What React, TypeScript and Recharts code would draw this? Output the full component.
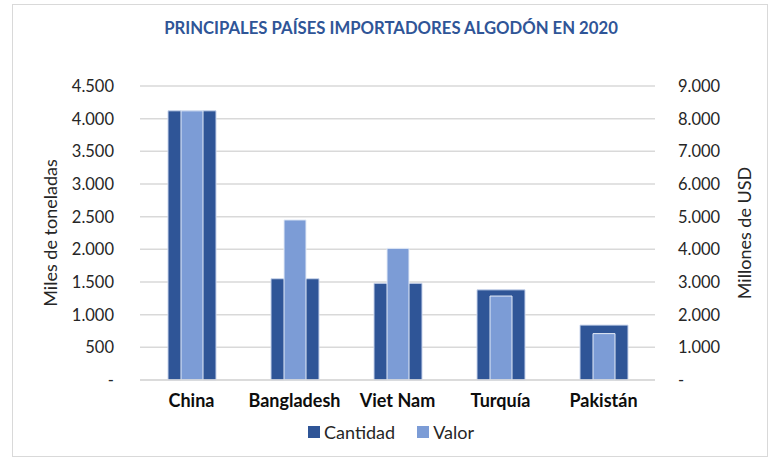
import { Bar, BarChart, CartesianGrid, XAxis, YAxis } from 'recharts';

const countries = ['China', 'Bangladesh', 'Viet Nam', 'Turquía', 'Pakistán'];
// Miles de toneladas
const cantidad = [4120, 1550, 1480, 1380, 840];
// Millones de USD
const valor = [8240, 4900, 4030, 2570, 1420];

const leftTicks = [0, 500, 1000, 1500, 2000, 2500, 3000, 3500, 4000, 4500];
const rightTicks = [0, 1000, 2000, 3000, 4000, 5000, 6000, 7000, 8000, 9000];

const data = countries.map((name, i) => ({ name, cantidad: cantidad[i], valor: valor[i] }));

const DARK = '#2F5597';
const LIGHT = '#7C9CD6';
const FONT = 'Lato, "Open Sans", sans-serif';

function fmt(v: number): string {
  if (v === 0) return '-';
  return v.toString().replace(/\B(?=(\d{3})+(?!\d))/g, '.');
}

function AxisTitle({ x, y, text }: { x: number; y: number; text: string }) {
  return (
    <text
      x={x}
      y={y}
      transform={`rotate(-90 ${x} ${y})`}
      textAnchor="middle"
      dominantBaseline="central"
      fontSize={18}
      fill="#262626"
      fontFamily={FONT}
    >
      {text}
    </text>
  );
}

export default function App() {
  return (
    <div style={{ position: 'absolute', left: 0, top: 0, width: 772, height: 457, background: '#fff', fontFamily: FONT }}>
      <div
        style={{
          position: 'absolute',
          left: 12,
          top: 4,
          width: 754,
          height: 451,
          border: '1px solid #d9d9d9',
        }}
      />
      <div
        style={{
          position: 'absolute',
          left: 0,
          top: 18,
          width: 782,
          textAlign: 'center',
          fontSize: 16.7,
          fontWeight: 700,
          color: DARK,
        }}
      >
        PRINCIPALES PAÍSES IMPORTADORES ALGODÓN EN 2020
      </div>
      <div style={{ position: 'absolute', left: 0, top: 0 }}>
        <BarChart
          width={772}
          height={457}
          data={data}
          margin={{ top: 86, right: 0, bottom: 47, left: 0 }}
        >
          <CartesianGrid vertical={false} stroke="#d9d9d9" strokeWidth={1.5} xAxisId="q" yAxisId="l" />
          <XAxis
            xAxisId="q"
            dataKey="name"
            height={30}
            axisLine={{ stroke: '#d9d9d9', strokeWidth: 1.5 }}
            tickLine={false}
            tickSize={0}
            tickMargin={14}
            tick={{ fontSize: 18, fontWeight: 700, fill: '#0d0d0d', fontFamily: FONT }}
          />
          <XAxis xAxisId="v" dataKey="name" hide />
          <YAxis
            yAxisId="l"
            orientation="left"
            width={140}
            domain={[0, 4500]}
            ticks={leftTicks}
            interval={0}
            axisLine={false}
            tickLine={false}
            tickSize={0}
            tickMargin={26}
            tickFormatter={fmt}
            tick={{ fontSize: 16.5, fill: '#262626', fontFamily: FONT }}
            label={{ content: () => <AxisTitle x={50} y={233} text="Miles de toneladas" /> }}
          />
          <YAxis
            yAxisId="r"
            orientation="right"
            width={117}
            domain={[0, 9000]}
            ticks={rightTicks}
            interval={0}
            axisLine={false}
            tickLine={false}
            tickSize={0}
            tickMargin={23}
            tickFormatter={fmt}
            tick={{ fontSize: 16.5, fill: '#262626', fontFamily: FONT, textAnchor: 'start' }}
            label={{ content: () => <AxisTitle x={744} y={233} text="Millones de USD" /> }}
          />
          <Bar
            dataKey="cantidad"
            name="Cantidad"
            xAxisId="q"
            yAxisId="l"
            fill={DARK}
            stroke="#c8d4ec"
            strokeWidth={1}
            barSize={48}
            isAnimationActive={false}
          />
          <Bar
            dataKey="valor"
            name="Valor"
            xAxisId="v"
            yAxisId="r"
            fill={LIGHT}
            stroke="#e4ebf7"
            strokeWidth={1}
            barSize={22}
            isAnimationActive={false}
          />
        </BarChart>
      </div>
      <div
        style={{
          position: 'absolute',
          left: 0,
          top: 421,
          width: 782,
          display: 'flex',
          justifyContent: 'center',
          gap: 22,
          fontSize: 18,
          color: '#262626',
        }}
      >
        {[
          { label: 'Cantidad', color: DARK },
          { label: 'Valor', color: LIGHT },
        ].map((item) => (
          <span key={item.label} style={{ display: 'flex', alignItems: 'center', gap: 4 }}>
            <span style={{ width: 12, height: 12, background: item.color, display: 'inline-block' }} />
            {item.label}
          </span>
        ))}
      </div>
    </div>
  );
}
